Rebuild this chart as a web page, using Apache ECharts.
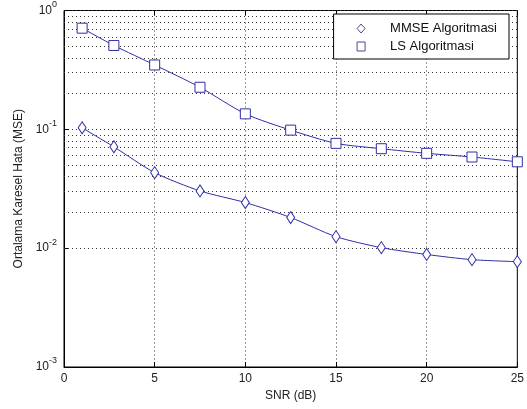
<!DOCTYPE html>
<html>
<head>
<meta charset="utf-8">
<script src="https://cdn.jsdelivr.net/npm/echarts@6/dist/echarts.min.js"></script>
<style>
html,body{margin:0;padding:0;background:#fff;}
#c{width:527px;height:409px;}
</style>
</head>
<body>
<div id="c"></div>
<script>
var snr = [1, 2.75, 5, 7.5, 10, 12.5, 15, 17.5, 20, 22.5, 25];
var mmse = [0.103, 0.0713, 0.0432, 0.0303, 0.0242, 0.0181, 0.0125, 0.0101, 0.00885, 0.0080, 0.0077];
var ls = [0.71, 0.508, 0.348, 0.226, 0.135, 0.0985, 0.0762, 0.0687, 0.0628, 0.0585, 0.0533];
var xTicks = [0, 5, 10, 15, 20, 25];
var yExponents = [-3, -2, -1, 0];
var yMinorGrid = [0.002,0.003,0.004,0.005,0.006,0.007,0.008,0.009,
                  0.02,0.03,0.04,0.05,0.06,0.07,0.08,0.09,
                  0.2,0.3,0.4,0.5,0.6,0.7,0.8,0.9];
var seriesNames = ['MMSE Algoritmasi', 'LS Algoritmasi'];

var lineColor = '#2f2fa6';
var font = 'Liberation Sans, Arial, sans-serif';
var dotted = {color: '#333', width: 1, type: [1, 3]};

function pairs(xs, ys){ return xs.map(function(x,i){ return [x, ys[i]]; }); }

var gridLines = yMinorGrid.map(function(v){ return {yAxis: v}; });

var chart = echarts.init(document.getElementById('c'), null, {renderer: 'canvas'});
chart.setOption({
  animation: false,
  backgroundColor: '#fff',
  textStyle: {fontFamily: font},
  grid: {left: 64, right: 8, top: 9, bottom: 42, show: true, borderColor: '#000', borderWidth: 1, backgroundColor: 'transparent'},
  legend: {
    orient: 'vertical',
    right: 18, top: 14,
    backgroundColor: '#fff',
    borderColor: '#000', borderWidth: 1, borderRadius: 0,
    padding: [8, 12, 6, 23],
    itemGap: 5,
    itemWidth: 8, itemHeight: 9,
    itemStyle: {color: '#fff', borderColor: '#4a4a90', borderWidth: 1},
    textStyle: {fontSize: 13, color: '#111', fontFamily: font, padding: [0, 0, 0, 20]},
    data: [{name: seriesNames[0], icon: 'diamond'}, {name: seriesNames[1], icon: 'rect'}]
  },
  xAxis: [{
    type: 'value', min: xTicks[0], max: xTicks[xTicks.length-1], interval: 5,
    name: 'SNR (dB)', nameLocation: 'middle', nameGap: 15,
    nameTextStyle: {fontSize: 12, color: '#222', fontFamily: font},
    axisLine: {lineStyle: {color: '#000'}},
    axisTick: {inside: true, length: 5, lineStyle: {color: '#000'}},
    axisLabel: {fontSize: 12, color: '#222', margin: 6, fontFamily: font},
    splitLine: {show: true, lineStyle: dotted}
  }, {
    type: 'value', position: 'top', min: xTicks[0], max: xTicks[xTicks.length-1], interval: 5,
    axisLine: {show: false},
    axisTick: {inside: true, length: 5, lineStyle: {color: '#000'}},
    axisLabel: {show: false}, splitLine: {show: false}
  }],
  yAxis: [{
    type: 'log', logBase: 10,
    min: Math.pow(10, yExponents[0]), max: Math.pow(10, yExponents[yExponents.length-1]),
    name: 'Ortalama Karesel Hata (MSE)', nameLocation: 'middle', nameGap: 34,
    nameTextStyle: {fontSize: 12, color: '#222', fontFamily: font},
    axisLine: {show: true, lineStyle: {color: '#000'}},
    axisTick: {show: true, inside: true, length: 5, lineStyle: {color: '#000'}},
    axisLabel: {
      margin: 7, color: '#222', fontFamily: font,
      formatter: function(v){
        var e = Math.round(Math.log10(v));
        return '{b|10}{s|' + e + '}';
      },
      rich: {
        b: {fontSize: 12, color: '#222', fontFamily: font},
        s: {fontSize: 9, color: '#222', fontFamily: font, verticalAlign: 'top', padding: [0, 0, 12, 0]}
      }
    },
    splitLine: {show: true, lineStyle: dotted}
  }],
  series: [{
    name: seriesNames[0], type: 'line', data: pairs(snr, mmse),
    smooth: 0.25,
    symbol: 'diamond', symbolSize: [8, 12],
    lineStyle: {color: lineColor, width: 1},
    itemStyle: {color: '#fff', borderColor: lineColor, borderWidth: 1},
    markLine: {
      silent: true, symbol: ['none', 'none'], label: {show: false},
      lineStyle: dotted, data: gridLines, z: 1
    },
    z: 3
  }, {
    name: seriesNames[1], type: 'line', data: pairs(snr, ls),
    smooth: 0.25,
    symbol: 'rect', symbolSize: 10,
    lineStyle: {color: lineColor, width: 1},
    itemStyle: {color: '#fff', borderColor: lineColor, borderWidth: 1},
    z: 3
  }]
});
</script>
</body>
</html>
